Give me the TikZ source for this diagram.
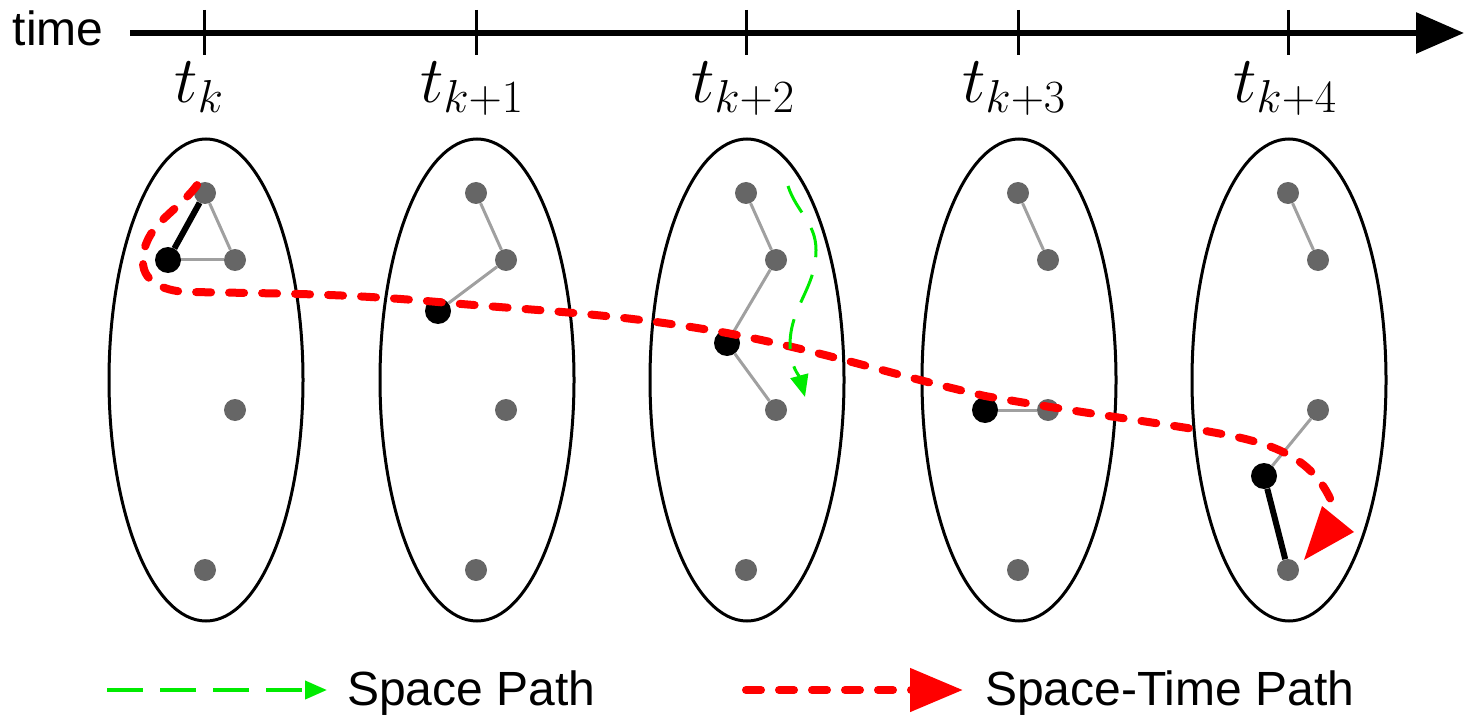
\RequirePackage{fix-cm}
\documentclass[tikz,border=0pt]{standalone}
\usepackage[no-math]{fontspec}
\setmainfont{Liberation Sans}
\usetikzlibrary{shapes.geometric,arrows.meta}
\definecolor{dotgray}{RGB}{102,102,102}
\definecolor{edgegray}{RGB}{160,160,160}
\definecolor{spgreen}{RGB}{0,235,0}
\begin{document}
\begin{tikzpicture}[x=1pt,y=-1pt,
 layer/.style={draw=black, line width=3pt, ellipse, minimum width=194pt, minimum height=482pt, inner sep=0pt},
 gdot/.style={circle, fill=dotgray, inner sep=0pt, minimum size=22pt},
 bdot/.style={circle, fill=black, inner sep=0pt, minimum size=26pt},
 gedge/.style={draw=edgegray, line width=3pt},
 bedge/.style={draw=black, line width=6pt},
 stpath/.style={draw=red, line width=8pt, line cap=round, dash pattern=on 15pt off 18pt},
 sppath/.style={draw=spgreen, line width=3pt, dash pattern=on 30pt off 18pt},
 axisline/.style={draw=black, line width=6pt, -{Triangle[length=48pt,width=40pt]}},
 tickmark/.style={draw=black, line width=3pt},
 tlabel/.style={anchor=base, inner sep=0pt, font=\fontsize{66}{74}\selectfont},
 txt/.style={inner sep=0pt, font=\fontsize{48}{56}\selectfont},
]
\useasboundingbox (0,0) rectangle (1466,719);
% time axis
\node[txt, anchor=base] (timelbl) at (58,46) {time};
\coordinate (axs) at (130,33);
\coordinate (axe) at (1464,33);
\draw[axisline] (axs) -- (axe);
\foreach \x in {204,476,746,1018,1288} { \draw[tickmark] (\x,10) -- (\x,55); }
\node[tlabel] (l0) at (199,103) {$t_{k}$};
\node[tlabel] (l1) at (472,103) {$t_{k+1}$};
\node[tlabel] (l2) at (743,103) {$t_{k+2}$};
\node[tlabel] (l3) at (1014,103) {$t_{k+3}$};
\node[tlabel] (l4) at (1285,103) {$t_{k+4}$};
% layers
\foreach \i/\cx in {1/205,2/476,3/746,4/1018,5/1288} {
  \node[layer] (e\i) at (\cx+1,380) {};
  \node[gdot] (a\i) at (\cx,193) {};
  \node[gdot] (b\i) at (\cx+30,260) {};
  \node[gdot] (c\i) at (\cx+30,410) {};
  \node[gdot] (d\i) at (\cx,570) {};
}
\node[bdot] (m1) at (168,260) {};
\node[bdot] (m2) at (438,311) {};
\node[bdot] (m3) at (727,343) {};
\node[bdot] (m4) at (985,410) {};
\node[bdot] (m5) at (1264,476) {};
% edges
\draw[gedge] (a1) -- (b1);
\draw[gedge] (m1) -- (b1);
\draw[bedge] (m1) -- (a1);
\draw[gedge] (a2) -- (b2);
\draw[gedge] (b2) -- (m2);
\draw[gedge] (a3) -- (b3);
\draw[gedge] (b3) -- (m3);
\draw[gedge] (m3) -- (c3);
\draw[gedge] (a4) -- (b4);
\draw[gedge] (m4) -- (c4);
\draw[gedge] (a5) -- (b5);
\draw[gedge] (c5) -- (m5);
\draw[bedge] (m5) -- (d5);
% space-time path
\coordinate (p1) at (143,262);
\coordinate (p2) at (190,292);
\coordinate (p3) at (438,302);
\coordinate (p4) at (727,333);
\coordinate (p5) at (985,396);
\coordinate (p6) at (1200,430);
\coordinate (stend) at (1333,505);
\draw[stpath] (a1.135) to[out=-127,in=90] (p1) to[out=-90,in=180] (p2)
  to[out=-1,in=175] (p3) to[out=-5,in=170] (p4) to[out=-11,in=167] (p5)
  to[out=-10,in=171] (p6) to[out=-10,in=112] (stend);
\fill[red] (1322,506) -- (1354,532) -- (1304,560) -- cycle;
% space path
\coordinate (g0) at (788,186);
\coordinate (g1) at (816,250);
\coordinate (g2) at (790,345);
\coordinate (g3) at (805,397);
\draw[sppath, -{Triangle[length=22pt,width=18pt]}] (g0) to[out=-72,in=90] (g1)
  to[out=-90,in=90] (g2) to[out=-90,in=105] (g3);
% legend
\coordinate (lg1) at (107,690);
\coordinate (lg2) at (327,690);
\draw[draw=spgreen, line width=4pt, dash pattern=on 36pt off 17pt, -{Triangle[length=22pt,width=18pt]}] (lg1) -- (lg2);
\node[txt, anchor=base west] (lgt) at (347,705) {Space Path};
\coordinate (lr1) at (746,690);
\coordinate (lr2) at (963,690);
\draw[draw=red, line width=8pt, line cap=round, dash pattern=on 15pt off 18pt, -{Triangle[length=53pt,width=42pt]}] (lr1) -- (lr2);
\node[txt, anchor=base west] (lrt) at (985,705) {Space-Time Path};
\end{tikzpicture}
\end{document}
